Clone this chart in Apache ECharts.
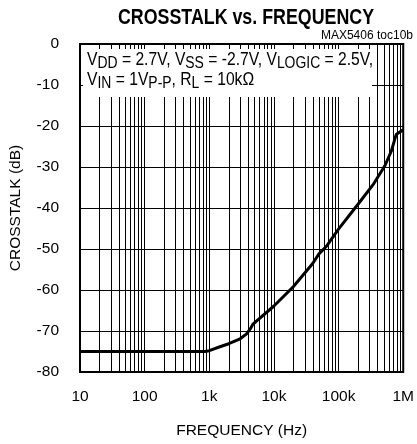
<!DOCTYPE html>
<html><head><meta charset="utf-8">
<script src="https://cdn.jsdelivr.net/npm/echarts@6/dist/echarts.min.js"></script>
<style>html,body{margin:0;padding:0;background:#fff}#c{width:417px;height:444px}</style>
</head><body><div id="c"></div>
<script>
var FONT = "'Liberation Sans',Arial,Helvetica,sans-serif";
var freqHz = [10, 100, 300, 850, 1000, 1425, 2000, 3000, 3780, 4300, 4745, 10000, 19900, 39500, 49700, 66000, 99000, 197000, 349000, 520000, 655000, 777000, 921000, 1000000];
var crosstalkDb = [-75, -75, -75, -75, -74.8, -73.9, -73.1, -71.9, -70.7, -69.5, -68.3, -63.9, -59.2, -53.6, -51.2, -49.2, -45.2, -39.2, -34.1, -29.7, -26.1, -22.1, -21.3, -20.9];
var xTickValues = [10, 100, 1000, 10000, 100000, 1000000];
var xTickLabels = ['10', '100', '1k', '10k', '100k', '1M'];
var minorGridHz = [];
[10, 100, 1000, 10000, 100000].forEach(function (d) { for (var k = 2; k <= 9; k++) minorGridHz.push(d * k); });

var chart = echarts.init(document.getElementById('c'), null, {renderer: 'canvas'});
chart.setOption({
  animation: false,
  grid: {left: 79, right: 3, top: 44, bottom: 65, show: true, borderColor: '#000', borderWidth: 2, backgroundColor: 'transparent'},
  xAxis: {
    type: 'log', logBase: 10, min: 10, max: 1000000,
    name: 'FREQUENCY (Hz)', nameLocation: 'middle', nameGap: 51,
    nameTextStyle: {fontFamily: FONT, fontSize: 15.5, color: '#000'},
    axisLine: {show: true, lineStyle: {color: '#000', width: 2}},
    axisTick: {show: false},
    axisLabel: {fontFamily: FONT, fontSize: 15.5, color: '#000', margin: 17,
      formatter: function (v) { var i = xTickValues.indexOf(Math.round(v)); return i >= 0 ? xTickLabels[i] : ''; }},
    splitLine: {show: true, lineStyle: {color: '#000', width: 1}},
    minorTick: {show: false}
  },
  yAxis: {
    type: 'value', min: -80, max: 0, interval: 10,
    name: 'CROSSTALK (dB)', nameLocation: 'middle', nameGap: 56,
    nameTextStyle: {fontFamily: FONT, fontSize: 15.5, color: '#000'},
    axisLine: {show: true, lineStyle: {color: '#000', width: 2}},
    axisTick: {show: false},
    axisLabel: {fontFamily: FONT, fontSize: 15.5, color: '#000', margin: 21},
    splitLine: {show: true, lineStyle: {color: '#000', width: 1}}
  },
  series: [{
    type: 'line', showSymbol: false, symbol: 'none', smooth: false,
    data: freqHz.map(function (f, i) { return [f, crosstalkDb[i]]; }),
    lineStyle: {color: '#000', width: 3},
    z: 5,
    markLine: {
      silent: true, symbol: 'none', label: {show: false},
      lineStyle: {color: '#000', width: 1, type: 'solid'},
      data: minorGridHz.map(function (f) { return {xAxis: f}; }),
      z: 1
    }
  }],
  graphic: [{
    type: 'text', z: 101, x: 246, y: 7, scaleX: 0.81,
    style: {text: 'CROSSTALK vs. FREQUENCY', fontFamily: FONT, fontWeight: 'bold', fontSize: 22,
      fill: '#000', textAlign: 'center', textVerticalAlign: 'top'}
  }, {
    type: 'text', z: 101, x: 413, y: 30,
    style: {text: 'MAX5406 toc10b', fontFamily: FONT, fontSize: 12, fill: '#000', textAlign: 'right', textVerticalAlign: 'top'}
  }, {
    type: 'rect', z: 100, shape: {x: 83, y: 49, width: 289, height: 48},
    style: {fill: '#fff'}
  }, {
    type: 'text', z: 101, x: 87, y: 50, scaleX: 0.87,
    style: {
      text: '{n|V}{s|DD}{n| = 2.7V, V}{s|SS}{n| = -2.7V, V}{s|LOGIC}{n| = 2.5V,}\n{n|V}{s|IN}{n| = 1V}{s|P-P}{n|, R}{s|L}{n| = 10kΩ}',
      fill: '#000',
      rich: {
        n: {fontFamily: FONT, fontSize: 18, lineHeight: 20, verticalAlign: 'middle', fill: '#000'},
        s: {fontFamily: FONT, fontSize: 16, lineHeight: 16, padding: [7, 0, 0, 0], verticalAlign: 'middle', fill: '#000'}
      }
    }
  }]
});
</script>
</body></html>
